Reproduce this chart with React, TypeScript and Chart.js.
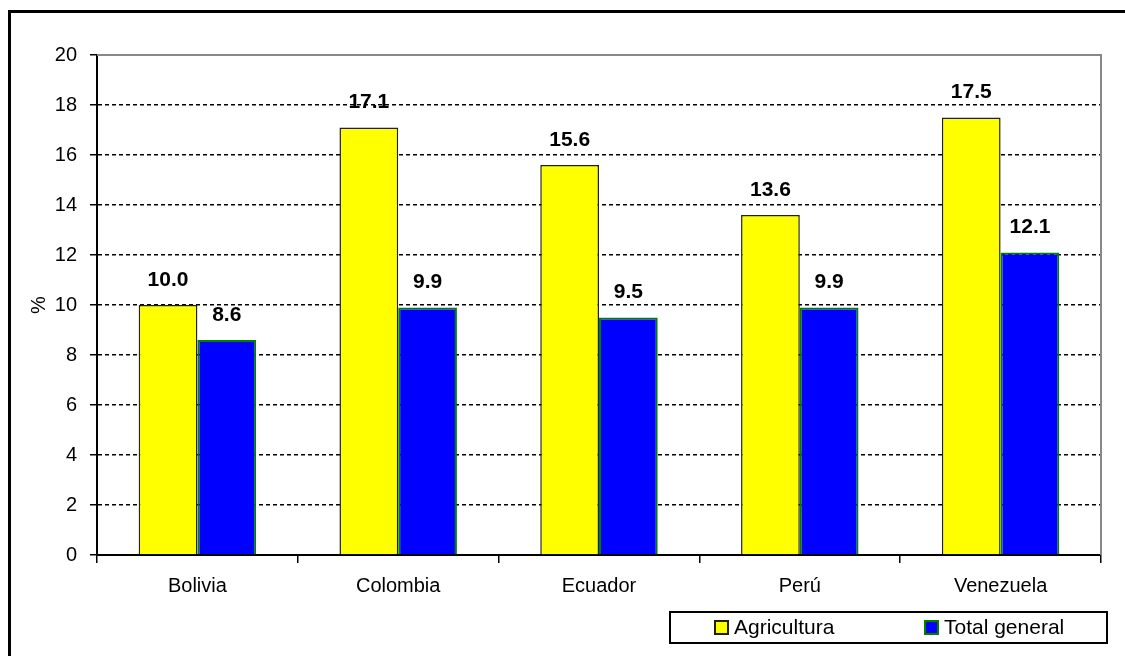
import React, { useEffect, useRef } from "react";
import { Chart, registerables } from "chart.js";

Chart.register(...registerables);

const categories = ["Bolivia", "Colombia", "Ecuador", "Perú", "Venezuela"];
const agricultura = [10.0, 17.1, 15.6, 13.6, 17.5];
const totalGeneral = [8.6, 9.9, 9.5, 9.9, 12.1];
const seriesNames = ["Agricultura", "Total general"];
const yTicks = [0, 2, 4, 6, 8, 10, 12, 14, 16, 18, 20];

const FONT = "'Liberation Sans', Arial, sans-serif";

const framePlugin = {
  id: "frame",
  afterDraw(chart: any) {
    const { ctx, width, height, chartArea } = chart;
    ctx.save();
    ctx.setLineDash([]);
    // outer frame
    ctx.strokeStyle = "#000";
    ctx.lineWidth = 3;
    ctx.beginPath();
    ctx.moveTo(9.5, height);
    ctx.lineTo(9.5, 11.5);
    ctx.lineTo(width, 11.5);
    ctx.stroke();
    // plot area top/right border
    ctx.strokeStyle = "#888";
    ctx.lineWidth = 2;
    ctx.beginPath();
    ctx.moveTo(chartArea.left, chartArea.top);
    ctx.lineTo(chartArea.right, chartArea.top);
    ctx.lineTo(chartArea.right, chartArea.bottom);
    ctx.stroke();
    // legend
    const lx = 670, ly = 612, lw = 437, lh = 31;
    ctx.fillStyle = "#fff";
    ctx.fillRect(lx, ly, lw, lh);
    ctx.strokeStyle = "#000";
    ctx.lineWidth = 2;
    ctx.strokeRect(lx, ly, lw, lh);
    const ds = chart.data.datasets;
    const itemX = [715, 925];
    ctx.font = `21px ${FONT}`;
    ctx.textBaseline = "middle";
    ctx.textAlign = "left";
    ds.forEach((d: any, i: number) => {
      const bx = itemX[i];
      const by = ly + lh / 2 - 6.5;
      ctx.fillStyle = d.backgroundColor;
      ctx.fillRect(bx, by, 13, 13);
      ctx.strokeStyle = d.borderColor;
      ctx.lineWidth = 2;
      ctx.strokeRect(bx, by, 13, 13);
      ctx.fillStyle = "#000";
      ctx.fillText(d.label, bx + 19, ly + lh / 2 + 1);
    });
    ctx.restore();
  },
};

const labelPlugin = {
  id: "valueLabels",
  afterDatasetsDraw(chart: any) {
    const { ctx } = chart;
    ctx.save();
    ctx.font = `bold 21px ${FONT}`;
    ctx.fillStyle = "#000";
    ctx.textAlign = "center";
    ctx.textBaseline = "middle";
    chart.data.datasets.forEach((d: any, i: number) => {
      const meta = chart.getDatasetMeta(i);
      meta.data.forEach((el: any, j: number) => {
        ctx.fillText(Number(d.data[j]).toFixed(1), el.x, el.y - 25);
      });
    });
    ctx.restore();
  },
};

export default function App() {
  const ref = useRef<HTMLCanvasElement>(null);
  useEffect(() => {
    if (!ref.current) return;
    const chart = new Chart(ref.current, {
      type: "bar",
      data: {
        labels: categories,
        datasets: [
          {
            label: seriesNames[0],
            data: agricultura,
            backgroundColor: "#ffff00",
            borderColor: "#222200",
            borderWidth: 1.5,
            categoryPercentage: 0.585,
            barPercentage: 1,
          },
          {
            label: seriesNames[1],
            data: totalGeneral,
            backgroundColor: "#0000ff",
            borderColor: "#008000",
            borderWidth: 2,
            categoryPercentage: 0.585,
            barPercentage: 1,
          },
        ],
      },
      options: {
        animation: false,
        responsive: true,
        maintainAspectRatio: false,
        layout: { padding: { top: 55, right: 24, left: 0, bottom: 0 } },
        plugins: {
          legend: { display: false },
          tooltip: { enabled: false },
        },
        scales: {
          x: {
            grid: {
              display: true,
              drawOnChartArea: false,
              offset: true,
              color: "#000",
              tickLength: 8,
              lineWidth: 1.5,
            },
            border: { display: true, color: "#000", width: 2 },
            ticks: {
              color: "#000",
              font: { size: 20, family: FONT },
              padding: 11,
            },
            afterFit: (s: any) => {
              s.height = 101;
            },
          },
          y: {
            min: 0,
            max: 20,
            afterBuildTicks: (s: any) => {
              s.ticks = yTicks.map((v) => ({ value: v }));
            },
            ticks: {
              color: "#000",
              font: { size: 20, family: FONT },
              padding: 13,
            },
            grid: {
              color: (c: any) => (c.tick && c.tick.value === 20 ? "rgba(0,0,0,0)" : "#000"),
              tickColor: "#000",
              tickLength: 7,
              lineWidth: 1.5,
              tickBorderDash: [],
            },
            border: { display: true, color: "#000", width: 2, dash: [4, 3] },
            title: {
              display: true,
              text: "%",
              color: "#000",
              font: { size: 20, family: FONT },
              padding: { top: 27, bottom: 0 },
            },
            afterFit: (s: any) => {
              s.width = 97;
            },
          },
        },
      },
      plugins: [labelPlugin, framePlugin],
    });
    return () => chart.destroy();
  }, []);
  return (
    <div style={{ position: "fixed", left: 0, top: 0, width: 1125, height: 656, background: "#fff" }}>
      <canvas ref={ref} />
    </div>
  );
}
